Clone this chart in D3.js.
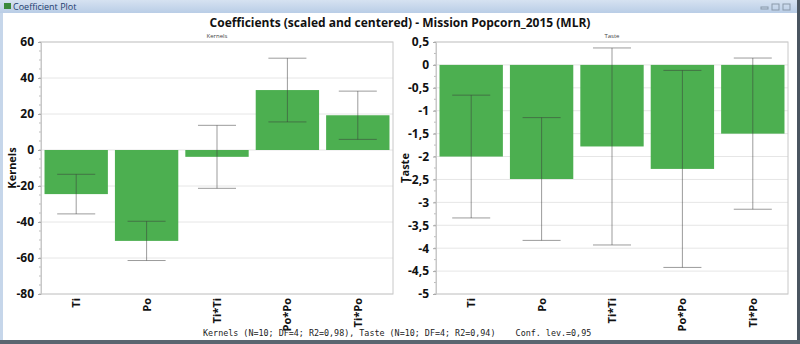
<!DOCTYPE html>
<html>
<head>
<meta charset="utf-8">
<script src="https://cdn.jsdelivr.net/npm/d3@7"></script>
<style>
  body { margin: 0; background: #fff; }
  svg { display: block; }
</style>
</head>
<body>
<svg width="800" height="344"></svg>
<script>
const terms = ["Ti", "Po", "Ti*Ti", "Po*Po", "Ti*Po"];
const kernelsCoef = [-24.5, -50.5, -3.8, 33.3, 19.3];
const kernelsErr = [11, 10.9, 17.5, 17.7, 13.4];
const tasteCoef = [-2.0, -2.49, -1.78, -2.27, -1.5];
const tasteErr = [1.34, 1.34, 2.15, 2.15, 1.65];
const kernelsTicks = [60, 40, 20, 0, -20, -40, -60, -80];
const tasteTicks = [0.5, 0, -0.5, -1, -1.5, -2, -2.5, -3, -3.5, -4, -4.5, -5];

const width = 800;
const height = 344;
const svg = d3.select("svg");
const green = "#4caf50";
const fmt = d => String(d).replace(".", ",");

// window frame
const grad = svg.append("defs").append("linearGradient")
    .attr("id", "bar").attr("x1", 0).attr("x2", 0).attr("y1", 0).attr("y2", 1);
grad.append("stop").attr("offset", 0).attr("stop-color", "#d6e2f1");
grad.append("stop").attr("offset", 1).attr("stop-color", "#b9cde6");
svg.append("rect").attr("width", width).attr("height", 13).attr("fill", "url(#bar)");
svg.append("rect").attr("x", 0).attr("y", 13).attr("width", 3).attr("height", 328).attr("fill", "#c6d6ea");
svg.append("rect").attr("x", 797).attr("y", 0).attr("width", 3).attr("height", height).attr("fill", "#4a5560");
svg.append("rect").attr("x", 0).attr("y", 340).attr("width", width).attr("height", 4).attr("fill", "#5b6670");
svg.append("rect").attr("x", 4).attr("y", 3).attr("width", 7).attr("height", 6).attr("fill", "#3c8a3c");
svg.append("text").attr("x", 13).attr("y", 10)
    .attr("font-family", "Open Sans, sans-serif").attr("font-size", 9).attr("fill", "#1e3c6e")
    .text("Coefficient Plot");
[[764, 0], [775, 0], [786, 0]].forEach(([x], i) => {
    svg.append("rect").attr("x", x - 3).attr("y", i === 0 ? 7 : 4).attr("width", 7).attr("height", i === 0 ? 2 : 6)
        .attr("fill", "none").attr("stroke", "#8a99aa").attr("stroke-width", 1);
});

svg.append("text").attr("x", 400).attr("y", 27).attr("text-anchor", "middle")
    .attr("font-family", "Open Sans, sans-serif").attr("font-weight", 700).attr("font-size", 12)
    .attr("fill", "#111")
    .text("Coefficients (scaled and centered) - Mission Popcorn_2015 (MLR)");

function panel(opts) {
    const { x0, x1, y0, y1, domain, ticks, coef, err, name, titleX, minor } = opts;
    const g = svg.append("g");
    const x = d3.scaleBand().domain(terms).range([x0, x1]).paddingInner(0.1).paddingOuter(0.05);
    const y = d3.scaleLinear().domain(domain).range([y1, y0]);

    // gridlines
    g.selectAll("line.grid").data(ticks).join("line")
        .attr("x1", x0).attr("x2", x1).attr("y1", d => y(d)).attr("y2", d => y(d))
        .attr("stroke", "#e6e6e6");

    // minor ticks
    g.selectAll("line.minor").data(minor).join("line")
        .attr("x1", x0 - 2).attr("x2", x0).attr("y1", d => y(d)).attr("y2", d => y(d))
        .attr("stroke", "#bbb");

    // frame
    g.append("rect").attr("x", x0).attr("y", y0).attr("width", x1 - x0).attr("height", y1 - y0)
        .attr("fill", "none").attr("stroke", "#c8c8c8");

    g.selectAll("rect.b").data(terms).join("rect")
        .attr("x", d => x(d)).attr("width", x.bandwidth())
        .attr("y", (d, i) => y(Math.max(0, coef[i])))
        .attr("height", (d, i) => Math.abs(y(coef[i]) - y(0)))
        .attr("fill", green);

    const cap = x.bandwidth() * 0.3;
    const eb = g.selectAll("g.e").data(terms).join("g")
        .attr("stroke", "#3a3a3a").attr("stroke-opacity", 0.5);
    eb.append("line")
        .attr("x1", d => x(d) + x.bandwidth() / 2).attr("x2", d => x(d) + x.bandwidth() / 2)
        .attr("y1", (d, i) => y(coef[i] + err[i])).attr("y2", (d, i) => y(coef[i] - err[i]));
    [1, -1].forEach(s => {
        eb.append("line")
            .attr("x1", d => x(d) + x.bandwidth() / 2 - cap).attr("x2", d => x(d) + x.bandwidth() / 2 + cap)
            .attr("y1", (d, i) => y(coef[i] + s * err[i])).attr("y2", (d, i) => y(coef[i] + s * err[i]));
    });

    // y axis
    const ax = g.append("g").attr("transform", `translate(${x0},0)`)
        .call(d3.axisLeft(y).tickValues(ticks).tickSize(3).tickFormat(fmt));
    ax.select(".domain").attr("stroke", "#c8c8c8");
    ax.selectAll(".tick line").attr("stroke", "#aaa");
    ax.selectAll("text").attr("font-family", "Open Sans, sans-serif").attr("font-weight", 700)
        .attr("font-size", 12).attr("fill", "#111").attr("dx", -1);

    // x labels
    g.selectAll("text.xl").data(terms).join("text")
        .attr("transform", d => `translate(${x(d) + x.bandwidth() / 2 + 4},${y1 + 4}) rotate(-90)`)
        .attr("text-anchor", "end")
        .attr("font-family", "Open Sans, sans-serif").attr("font-weight", 700).attr("font-size", 11)
        .attr("fill", "#111").text(d => d);

    g.append("text").attr("x", (x0 + x1) / 2).attr("y", y0 - 4).attr("text-anchor", "middle")
        .attr("font-family", "Open Sans, sans-serif").attr("font-size", 6).attr("fill", "#444").text(name);

    g.append("text").attr("transform", `translate(${titleX},${(y0 + y1) / 2}) rotate(-90)`)
        .attr("text-anchor", "middle")
        .attr("font-family", "Open Sans, sans-serif").attr("font-weight", 700).attr("font-size", 11)
        .attr("fill", "#111").text(name);
}

panel({
    x0: 41, x1: 393, y0: 42, y1: 294, domain: [-80, 60], ticks: kernelsTicks,
    coef: kernelsCoef, err: kernelsErr, name: "Kernels", titleX: 16,
    minor: d3.range(-80, 60.1, 5)
});
panel({
    x0: 436, x1: 788, y0: 42, y1: 294, domain: [-5, 0.5], ticks: tasteTicks,
    coef: tasteCoef, err: tasteErr, name: "Taste", titleX: 409,
    minor: d3.range(-5, 0.51, 0.25)
});

svg.append("text").attr("x", 203).attr("y", 336)
    .attr("font-family", "DejaVu Sans Mono, monospace").attr("font-size", 8.4).attr("fill", "#222")
    .attr("xml:space", "preserve").style("white-space", "pre")
    .text("Kernels (N=10; DF=4; R2=0,98), Taste (N=10; DF=4; R2=0,94)    Conf. lev.=0,95");
</script>
</body>
</html>
